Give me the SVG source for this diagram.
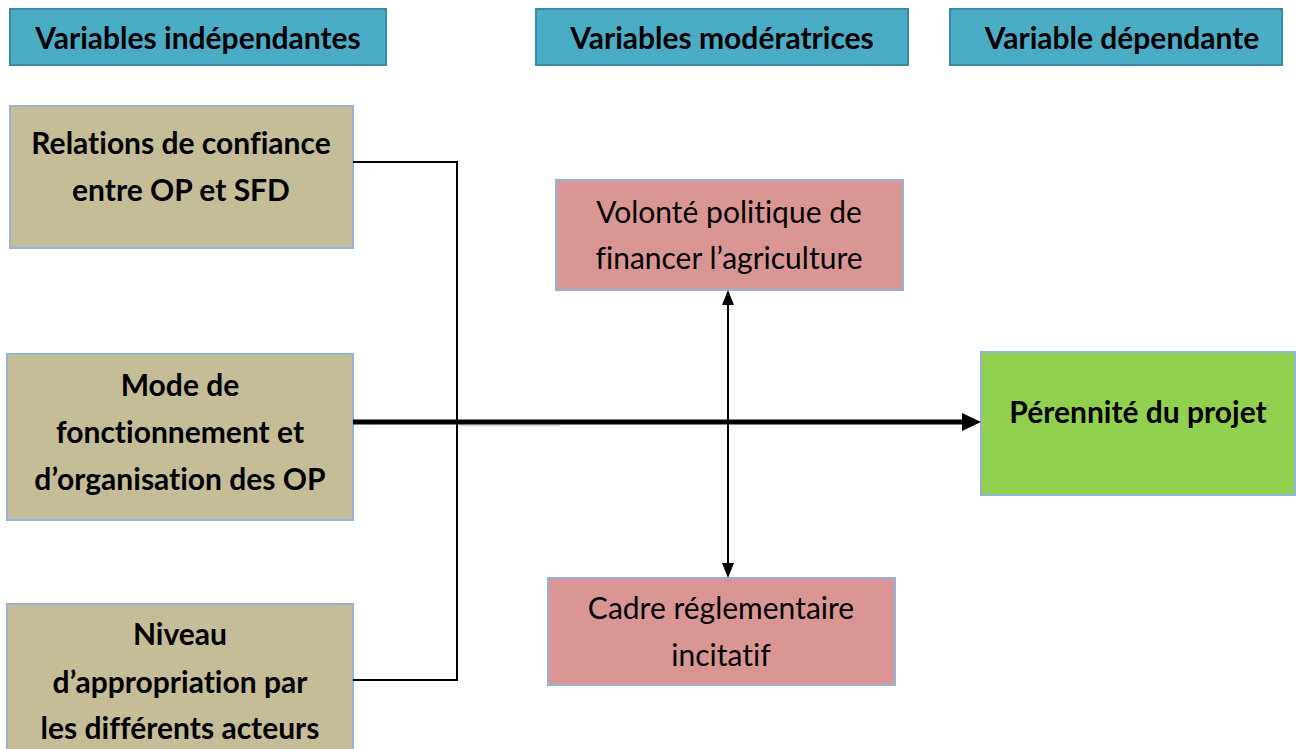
<svg xmlns="http://www.w3.org/2000/svg" width="1296" height="749" viewBox="0 0 1296 749">
<defs>
<style>
.hdr{fill:#4BACC6;stroke:#3A8BA1;stroke-width:2}
.iv{fill:#C4BD97;stroke:#95B3D7;stroke-width:2}
.mv{fill:#D99694;stroke:#95B3D7;stroke-width:2}
.dv{fill:#92D050;stroke:#95B3D7;stroke-width:2}
text{font-family:Lato,"Open Sans","Liberation Sans",sans-serif;fill:#000;text-anchor:middle;font-variant-ligatures:none;font-feature-settings:"liga" 0,"dlig" 0}
.b{font-weight:bold;font-size:30px}
.r{font-size:30px}
.h{font-weight:bold;font-size:30px}
.ln{fill:none;stroke:#000}
</style>
</defs>
<rect width="1296" height="749" fill="#fff"/>
<g id="h1"><rect class="hdr" x="10" y="9" width="376" height="56"/><text class="h" x="198" y="49">Variables indépendantes</text></g>
<g id="h2"><rect class="hdr" x="536" y="9" width="372" height="56"/><text class="h" x="722" y="49">Variables modératrices</text></g>
<g id="h3"><rect class="hdr" x="950" y="9" width="332" height="56"/><text class="h" x="1122" y="49">Variable dépendante</text></g>
<g id="n1"><rect class="iv" x="10" y="106" width="343" height="142"/><text class="b" x="181" y="154">Relations de confiance</text><text class="b" x="181" y="201">entre OP et SFD</text></g>
<g id="n2"><rect class="iv" x="7" y="354" width="346" height="166"/><text class="b" x="180" y="396">Mode de</text><text class="b" x="180" y="443">fonctionnement et</text><text class="b" x="180" y="490">d’organisation des OP</text></g>
<g id="n3"><rect class="iv" x="7" y="604" width="346" height="150"/><text class="b" x="180" y="645">Niveau</text><text class="b" x="180" y="693">d’appropriation par</text><text class="b" x="180" y="739">les différents acteurs</text></g>
<g id="m1"><rect class="mv" x="556" y="180" width="347" height="110"/><text class="r" x="729" y="223">Volonté politique de</text><text class="r" x="729" y="269">financer l’agriculture</text></g>
<g id="m2"><rect class="mv" x="548" y="578" width="347" height="107"/><text class="r" x="721" y="619">Cadre réglementaire</text><text class="r" x="721" y="666">incitatif</text></g>
<g id="d1"><rect class="dv" x="981" y="352" width="314" height="143"/><text class="b" x="1138" y="423">Pérennité du projet</text></g>
<g id="connectors">
<path d="M459,425.5 H560" stroke="#ddd" stroke-width="2" fill="none"/>
<path class="ln" stroke-width="2" d="M353,162 H457 V680 H353"/>
<path class="ln" stroke-width="5" d="M353,422 H962"/>
<path d="M962,413 L981,422 L962,431 z" fill="#000"/>
<path class="ln" stroke-width="2" d="M728,304 V564"/>
<path d="M722,305 L728,290 L734,305 z" fill="#000"/>
<path d="M722,563 L728,578 L734,563 z" fill="#000"/>
</g>
</svg>
